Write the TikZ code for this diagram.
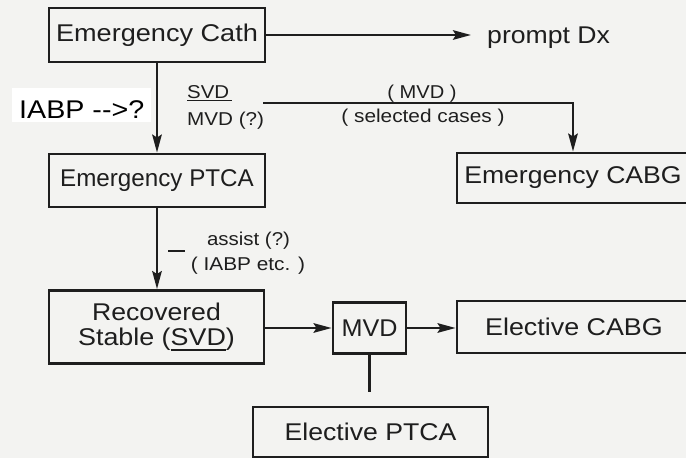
\documentclass[tikz,border=0pt]{standalone}
\usepackage{fontspec}
\setmainfont{Liberation Sans}
\usetikzlibrary{arrows.meta}
\definecolor{paper}{HTML}{F3F3F1}
\definecolor{ink}{HTML}{1E1E1E}
% horizontally widened sans text (optional factor)
\newcommand\wide[2][1.11]{\scalebox{#1}[1]{#2}}
\newcommand\bigtxt{\fontsize{24.2}{25}\selectfont}
\newcommand\smalltxt{\fontsize{18.6}{22}\selectfont}
\newcommand\svdline[1]{\setbox0\hbox{#1}\rlap{\rule[-6pt]{\wd0}{2pt}}\box0}

\begin{document}
\begin{tikzpicture}[x=1pt,y=-1pt,
  box/.style={draw=ink, line width=2.8pt, inner sep=0pt, font=\bigtxt, text=ink, align=center},
  note/.style={inner sep=0pt, font=\smalltxt, text=ink},
  arr/.style={draw=ink, line width=2.5pt, -{Stealth[length=18pt,width=9.5pt,inset=3pt]}},
  wire/.style={draw=ink, line width=2.5pt}]

\clip (0,0) rectangle (686,458);
\fill[paper] (0,0) rectangle (686,458);

% boxes
\node[box, minimum width=216pt, minimum height=54pt] (cath) at (157,35) {\wide[1.12]{Emergency Cath}};
\node[box, minimum width=216pt, minimum height=53pt] (ptca) at (157,180.5) {\wide[1.0]{Emergency PTCA}};
\node[box, minimum width=215pt, minimum height=73pt] (rec) at (156.5,327) {\wide[1.10]{Recovered}\\\wide{Stable (\svdline{SVD})}};
\node[box, minimum width=73pt, minimum height=51pt] (mvd) at (369.5,328) {\wide[1.04]{MVD}};
\node[box, minimum width=232pt, minimum height=50pt] (ecabg) at (573,178) {\wide[1.10]{Emergency CABG}};
\node[box, minimum width=234pt, minimum height=52pt] (lcabg) at (574,327) {\wide[1.11]{Elective CABG}};
\node[box, minimum width=235pt, minimum height=50pt] (lptca) at (370.5,432) {\wide[1.10]{Elective PTCA}};

% free text
\node[inner sep=0pt, font=\bigtxt, text=ink, anchor=base west] (dx) at (487,43) {\wide[1.10]{prompt Dx}};
\node[anchor=base west, fill=white, inner xsep=7pt, inner ysep=0pt, text height=30pt, text depth=4pt,
      font=\fontsize{25.6}{28}\selectfont, text=black] (iabp) at (12,118) {\wide[1.12]{IABP -{}-{}>?}};
\node[note, anchor=base west] (svd) at (187,98) {\rlap{\rule[-3pt]{45pt}{1.5pt}}\wide[1.10]{SVD}};
\node[note, anchor=base west] (mvdq) at (187,125) {\wide[1.11]{MVD (?)}};
\node[note, anchor=base] (sel1) at (422,98) {\wide[1.08]{( MVD )}};
\node[note, anchor=base] (sel2) at (423,122) {\wide[1.12]{( selected cases )}};
\node[note, anchor=base] (as1) at (248.5,245) {\wide[1.10]{assist (?)}};
\node[note, anchor=base] (as2) at (248,270) {\wide[1.12]{( IABP etc. )}};
\node[inner sep=0pt, text=ink] (dash) at (176.5,251) {\rule{17pt}{2.2pt}};

\coordinate (fork) at (263,103);
\coordinate (tail) at (369.5,392);

% connectors
\draw[arr] (cath.east) -- ([xshift=-16pt]dx.west |- cath.east);
\draw[arr] (cath.south) -- (ptca.north);
\draw[arr] (fork) -| (ecabg.north);
\draw[arr] (ptca.south) -- (ptca.south |- rec.north);
\draw[arr] (rec.east |- mvd.west) -- (mvd.west);
\draw[arr] (mvd.east) -- (mvd.east -| lcabg.west);
\draw[wire] (mvd.south) -- (tail);
\end{tikzpicture}
\end{document}
